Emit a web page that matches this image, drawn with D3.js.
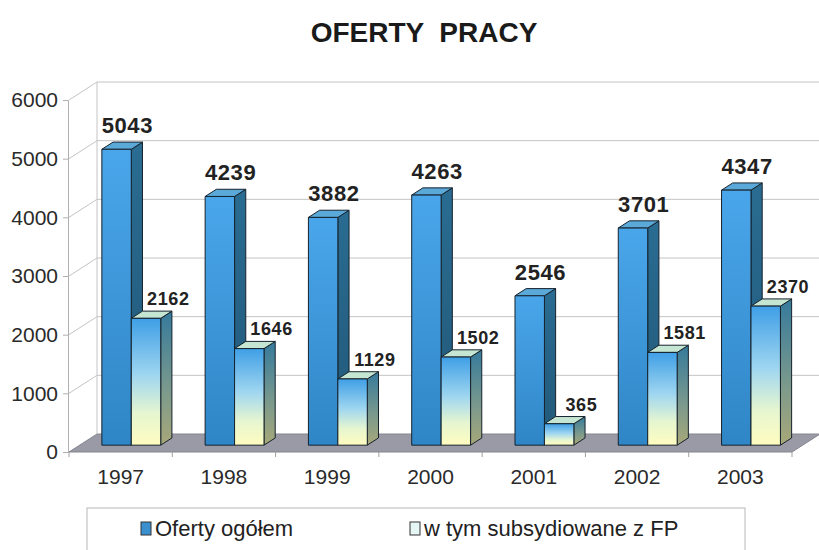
<!DOCTYPE html>
<html lang="pl">
<head>
<meta charset="UTF-8">
<title>Oferty pracy</title>
<style>
    body { margin: 0; background: #fff; }
    .grid { stroke: #c4c4c4; stroke-width: 1; fill: none; }
    .tick-label { font-family: "Liberation Sans", Arial, sans-serif; font-size: 21px; fill: #2a2a2a; }
    .cat-label { font-family: "Liberation Sans", Arial, sans-serif; font-size: 21px; fill: #2a2a2a; }
    .bar-edge { stroke: #16222c; stroke-width: 1; stroke-linejoin: round; }
</style>
</head>
<body>
<script src="https://d3js.org/d3.v7.min.js"></script>
<script>
    const years = ['1997', '1998', '1999', '2000', '2001', '2002', '2003'];
    const ofertyOgolem = [5043, 4239, 3882, 4263, 2546, 3701, 4347];
    const subsydiowane = [2162, 1646, 1129, 1502, 365, 1581, 2370];
    const seriesNames = ['Oferty ogółem', 'w tym subsydiowane z FP'];
    const yTicks = [0, 1000, 2000, 3000, 4000, 5000, 6000];

    const width = 819, height = 550;
    const depthX = 28, depthY = -18;      // full depth of the 3d box
    const barFront = 0.38, barBack = 0.78;  // bar depth inside the box

    const svg = d3.select('body').append('svg')
        .attr('width', width).attr('height', height);

    const defs = svg.append('defs');
    function grad(id, stops) {
        const g = defs.append('linearGradient').attr('id', id)
            .attr('x1', 0).attr('y1', 0).attr('x2', 0).attr('y2', 1);
        stops.forEach(s => g.append('stop').attr('offset', s[0]).attr('stop-color', s[1]));
    }
    grad('blueFront', [[0, '#4aa6ea'], [1, '#2f86c6']]);
    grad('blueSide', [[0, '#2a6c92'], [1, '#215777']]);
    grad('yelFront', [[0, '#3f9fe6'], [0.45, '#9fd6f0'], [0.75, '#e6f6d0'], [1, '#fffcc0']]);
    grad('yelSide', [[0, '#357a9c'], [0.6, '#7c9a8c'], [1, '#a8a878']]);

    const x = d3.scaleBand().domain(years).range([69, 792])
        .paddingInner(0.43).paddingOuter(0.215);
    const xs = d3.scaleBand().domain(seriesNames).range([0, x.bandwidth()]);
    const y = d3.scaleLinear().domain([0, 6000]).range([452, 100]);

    const P = (px, py, d) => [px + d * depthX, py + d * depthY];
    const poly = pts => pts.map(p => p.join(',')).join(' ');

    const x0 = x.range()[0], x1 = x.range()[1];

    // floor
    svg.append('polygon')
        .attr('points', poly([P(x0, y(0), 0), P(x1, y(0), 0), P(x1, y(0), 1), P(x0, y(0), 1)]))
        .attr('fill', '#9a9aa6').attr('stroke', '#85858f');

    // gridlines: left wall diagonal + back wall
    const grid = svg.append('g');
    yTicks.forEach(t => {
        const a = P(x0, y(t), 0), b = P(x0, y(t), 1), c = P(x1, y(t), 1);
        if (t > 0) {
            grid.append('polyline').attr('class', 'grid')
                .attr('points', poly([a, b, c]));
        }
    });
    grid.append('line').attr('class', 'grid')
        .attr('x1', x0 + depthX).attr('x2', x0 + depthX)
        .attr('y1', y(0) + depthY).attr('y2', y(6000) + depthY);

    // y axis
    const yAxis = svg.append('g').attr('transform', `translate(${x0 - 1},0)`)
        .call(d3.axisLeft(y).tickValues(yTicks).tickSize(5).tickPadding(5).tickFormat(d3.format('d')));
    yAxis.select('.domain').attr('stroke', '#b0b0b0');
    yAxis.selectAll('.tick line').attr('stroke', '#b0b0b0');
    yAxis.selectAll('.tick text').attr('class', 'tick-label').attr('fill', null)
        .attr('font-size', null).attr('font-family', null);

    // x axis boundary ticks
    const step = x.step();
    svg.append('g').selectAll('line').data(d3.range(years.length + 1)).join('line')
        .attr('x1', i => x0 + i * step).attr('x2', i => x0 + i * step)
        .attr('y1', y(0)).attr('y2', y(0) + 5)
        .attr('stroke', '#a0a0a0');

    svg.append('g').selectAll('text').data(years).join('text')
        .attr('class', 'cat-label')
        .attr('x', d => x(d) + x.bandwidth() / 2)
        .attr('y', 484)
        .attr('text-anchor', 'middle')
        .text(d => d);

    // bars
    const bars = [];
    years.forEach((yr, i) => {
        bars.push({ yr, s: 0, v: ofertyOgolem[i] });
        bars.push({ yr, s: 1, v: subsydiowane[i] });
    });

    const gBars = svg.append('g');
    bars.forEach(b => {
        const bx0 = x(b.yr) + xs(seriesNames[b.s]);
        const bx1 = bx0 + xs.bandwidth();
        const yt = y(b.v), yb = y(0);
        const g = gBars.append('g');
        const front = b.s === 0 ? 'url(#blueFront)' : 'url(#yelFront)';
        const side = b.s === 0 ? 'url(#blueSide)' : 'url(#yelSide)';
        const top = b.s === 0 ? '#5aa9d9' : '#c4e6d2';
        g.append('polygon').attr('class', 'bar-edge').attr('fill', side)
            .attr('points', poly([P(bx1, yt, barFront), P(bx1, yt, barBack), P(bx1, yb, barBack), P(bx1, yb, barFront)]));
        g.append('polygon').attr('class', 'bar-edge').attr('fill', top)
            .attr('points', poly([P(bx0, yt, barFront), P(bx1, yt, barFront), P(bx1, yt, barBack), P(bx0, yt, barBack)]));
        g.append('polygon').attr('class', 'bar-edge').attr('fill', front)
            .attr('points', poly([P(bx0, yt, barFront), P(bx1, yt, barFront), P(bx1, yb, barFront), P(bx0, yb, barFront)]));

        const fl = P(bx0, yt, barFront)[0];
        const topY = P(bx0, yt, barBack)[1];
        g.append('text')
            .attr('x', fl + (b.s === 0 ? 25.5 : 37))
            .attr('y', topY - (b.s === 0 ? 9 : 6))
            .attr('text-anchor', 'middle')
            .attr('font-family', '"Liberation Sans", Arial, sans-serif')
            .attr('font-weight', 'bold')
            .attr('font-size', b.s === 0 ? 22 : 18)
            .attr('letter-spacing', 0.6)
            .attr('fill', '#222')
            .text(b.v);
    });

    // title
    svg.append('text')
        .attr('x', 424).attr('y', 42)
        .attr('text-anchor', 'middle')
        .attr('font-family', '"Liberation Sans", Arial, sans-serif')
        .attr('font-weight', 'bold')
        .attr('font-size', 28)
        .attr('fill', '#1a1a1a')
        .style('white-space', 'pre')
        .text('OFERTY  PRACY');

    // legend
    const lg = svg.append('g');
    lg.append('rect').attr('x', 87).attr('y', 508).attr('width', 658).attr('height', 60)
        .attr('fill', '#fff').attr('stroke', '#b8b8b8');
    const legendX = [141, 410];
    const legendFill = ['#3b8fcf', '#e6f6f4'];
    seriesNames.forEach((name, i) => {
        lg.append('rect').attr('x', legendX[i]).attr('y', 522).attr('width', 10).attr('height', 13)
            .attr('fill', legendFill[i]).attr('stroke', '#333');
        lg.append('text').attr('x', legendX[i] + 14).attr('y', 536)
            .attr('font-family', '"Liberation Sans", Arial, sans-serif')
            .attr('font-size', 22).attr('fill', '#222')
            .text(name);
    });
</script>
</body>
</html>
